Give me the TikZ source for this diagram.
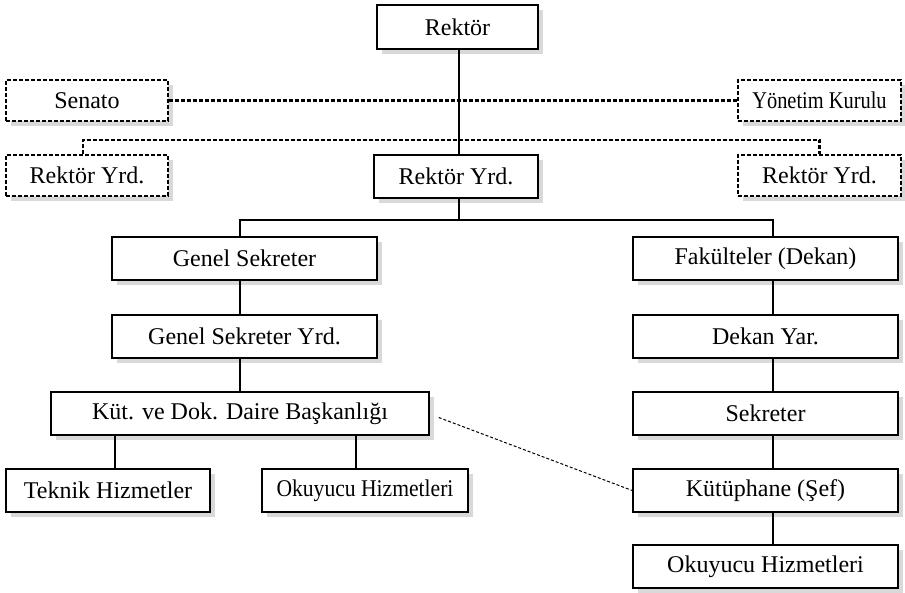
\documentclass[tikz,border=0pt]{standalone}
\usepackage{fontspec}
\setmainfont{Liberation Serif}
\newfontfamily\narrowserif[FakeStretch=0.85]{Liberation Serif}
\newfontfamily\slimserif[FakeStretch=0.9]{Liberation Serif}
\usetikzlibrary{shadows}

\begin{document}
\begin{tikzpicture}[x=1pt,y=-1pt,font=\fontsize{24}{28}\selectfont]
    \tikzstyle{unit}=[rectangle,draw,fill=white,line width=1.5pt,inner sep=0pt,minimum height=43pt,
      drop shadow={shadow xshift=5pt,shadow yshift=-5pt,fill=black!15,opacity=1}]
    \tikzstyle{board}=[unit,dashed,dash pattern=on 4pt off 2pt,line width=1.2pt,minimum height=41pt]
    \tikzstyle{link}=[line width=2pt]
    \tikzstyle{dashlink}=[line width=2.2pt,dash pattern=on 4pt off 2pt]
    \tikzstyle{looselink}=[line width=1pt,dash pattern=on 3pt off 2pt]
    \useasboundingbox (0,0) rectangle (905,593);
    % top level
    \node [unit,minimum width=161pt,minimum height=44pt] (rektor) at (457.5,27) {Rektör};
    \node [board,minimum width=162pt] (senato) at (87,100.5) {Senato};
    \node [board,minimum width=163pt] (yonetim) at (819.5,100.5) {\narrowserif Yönetim Kurulu};
    \node [board,minimum width=162pt] (ryrdL) at (87,175.5) {Rektör Yrd.};
    \node [unit,minimum width=164pt] (ryrd) at (456,176.5) {Rektör Yrd.};
    \node [board,minimum width=163pt] (ryrdR) at (819.5,175.5) {Rektör Yrd.};
    % left branch
    \node [unit,minimum width=265pt] (gensek) at (244.5,258.5) {Genel Sekreter};
    \node [unit,minimum width=265pt] (gensekyrd) at (244.5,336.5) {Genel Sekreter Yrd.};
    \node [unit,minimum width=378pt] (kutdok) at (240,413.5) {Küt. ve Dok. Daire Başkanlığı};
    \node [unit,minimum width=204pt] (teknik) at (108,490.5) {Teknik Hizmetler};
    \node [unit,minimum width=206pt] (okuyucuL) at (365,490.5) {\slimserif Okuyucu Hizmetleri};
    % right branch
    \node [unit,minimum width=265pt] (fakulte) at (765.5,258.5) {Fakülteler (Dekan)};
    \node [unit,minimum width=265pt] (dekanyar) at (765.5,336.5) {Dekan Yar.};
    \node [unit,minimum width=265pt] (sekreter) at (765.5,413.5) {Sekreter};
    \node [unit,minimum width=265pt] (kutuphane) at (765.5,490.5) {Kütüphane (Şef)};
    \node [unit,minimum width=265pt] (okuyucuR) at (765.5,566.5) {Okuyucu Hizmetleri};
    % connectors
    \coordinate (advisors) at (0,140);
    \coordinate (split) at (0,220);
    \draw [dashlink] (senato.east) -- (yonetim.west);
    \draw [dashlink] ([xshift=-4pt]ryrdL.north) -- ([xshift=-4pt]ryrdL.north |- advisors)
      -- (ryrdR.north |- advisors) -- (ryrdR.north);
    \draw [link] ([xshift=1.5pt]rektor.south) -- ([xshift=1.5pt]rektor.south |- ryrd.north);
    \draw [link] ([xshift=3pt]ryrd.south) -- ([xshift=3pt]ryrd.south |- split);
    \draw [link] ([xshift=-4.5pt]gensek.north) -- ([xshift=-4.5pt]gensek.north |- split)
      -- ([xshift=7.5pt]fakulte.north |- split) -- ([xshift=7.5pt]fakulte.north);
    \draw [link] ([xshift=-4.5pt]gensek.south) -- ([xshift=-4.5pt]gensekyrd.north);
    \draw [link] ([xshift=-4.5pt]gensekyrd.south) -- ([xshift=-4.5pt]gensekyrd.south |- kutdok.north);
    \draw [link] (kutdok.south -| teknik.north) ++(7pt,0) -- ([xshift=7pt]teknik.north);
    \draw [link] (kutdok.south -| okuyucuL.north) ++(-9pt,0) -- ([xshift=-9pt]okuyucuL.north);
    \draw [link] ([xshift=7.5pt]fakulte.south) -- ([xshift=7.5pt]dekanyar.north);
    \draw [link] ([xshift=7.5pt]dekanyar.south) -- ([xshift=7.5pt]sekreter.north);
    \draw [link] ([xshift=7.5pt]sekreter.south) -- ([xshift=7.5pt]kutuphane.north);
    \draw [link] ([xshift=7.5pt]kutuphane.south) -- ([xshift=7.5pt]okuyucuR.north);
    \draw [looselink] ([xshift=9pt,yshift=-4pt]kutdok.east) -- (kutuphane.west);
\end{tikzpicture}
\end{document}
